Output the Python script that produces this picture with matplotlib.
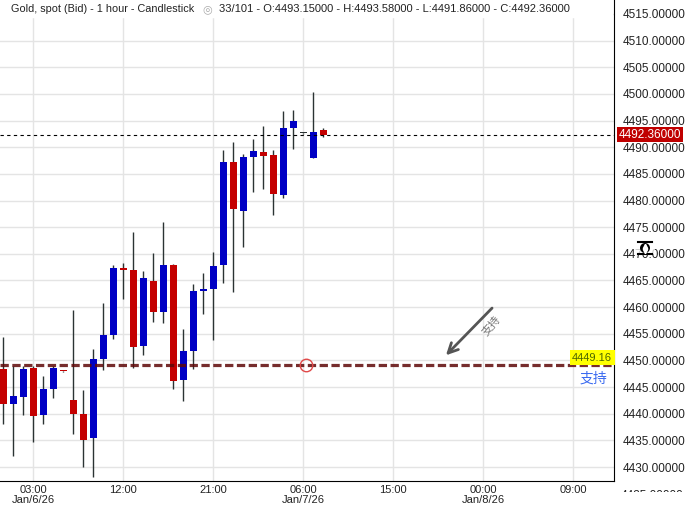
import matplotlib.pyplot as plt
import numpy as np
from matplotlib.patches import Rectangle, Circle
from matplotlib.lines import Line2D
from matplotlib.transforms import Bbox, IdentityTransform, blended_transform_factory

plt.rcParams['font.family'] = ['Liberation Sans', 'Noto Sans CJK SC', 'DejaVu Sans']

# hours counted from 03:00 Jan/6/26
hours = list(range(-3, 30))
opens = [4448.38, 4441.87, 4443.24, 4448.62, 4439.87, 4444.74, 4448.05, 4442.62, 4440.0, 4435.37,
         4450.31, 4454.81, 4467.31, 4467.0, 4452.75, 4464.94, 4459.18, 4467.94, 4446.43, 4451.87,
         4463.12, 4463.44, 4467.94, 4487.31, 4478.12, 4488.25, 4489.12, 4488.56, 4481.06, 4493.68,
         4492.6, 4488.06, 4493.15]
closes = [4441.87, 4443.37, 4448.44, 4439.68, 4444.68, 4448.62, 4447.95, 4440.05, 4435.18, 4450.31,
          4454.81, 4467.37, 4467.0, 4452.56, 4465.5, 4459.18, 4467.94, 4446.24, 4451.81, 4463.06,
          4463.44, 4467.75, 4487.31, 4478.38, 4488.25, 4489.31, 4488.43, 4481.25, 4493.62, 4494.94,
          4492.6, 4492.81, 4492.36]
highs = [4454.31, 4449.0, 4449.0, 4449.0, 4447.12, 4449.0, 4448.1, 4459.5, 4444.5, 4452.19,
         4460.87, 4467.94, 4468.37, 4474.1, 4466.81, 4470.24, 4476.0, 4468.12, 4455.93, 4464.37,
         4466.44, 4470.37, 4489.5, 4491.06, 4488.75, 4491.56, 4494.0, 4489.5, 4496.81, 4497.0,
         4492.7, 4500.43, 4493.58]
lows = [4438.18, 4432.18, 4439.87, 4434.8, 4438.0, 4443.05, 4447.9, 4436.3, 4430.1, 4428.2,
        4448.25, 4454.06, 4461.56, 4448.68, 4451.06, 4457.3, 4457.1, 4444.56, 4442.49, 4448.49,
        4458.8, 4453.87, 4464.5, 4462.93, 4471.37, 4481.68, 4482.13, 4477.31, 4480.56, 4489.69,
        4492.5, 4488.06, 4491.86]

tick_pos = [0, 9, 18, 27, 36, 45, 54]
tick_labels = ['03:00\nJan/6/26', '12:00', '21:00', '06:00\nJan/7/26', '15:00', '00:00\nJan/8/26', '09:00']
price_ticks = np.arange(4430, 4516, 5)

last_price = 4492.36
support = 4449.16

fig = plt.figure(figsize=(6.86, 5.05), dpi=100)
ax = fig.add_axes([0, 24 / 505, 614 / 686, 481 / 505])

wick_col = '#2b3333'
up_col = '#0000c4'
down_col = '#c40000'

ax.vlines(hours, lows, highs, color=wick_col, lw=1, zorder=3)
for h, o, c in zip(hours, opens, closes):
    if c > o:
        col = up_col
    elif c < o:
        col = down_col
    else:
        col = wick_col
    ax.bar(h, max(abs(c - o), 0.3), bottom=min(o, c), width=0.68, color=col, zorder=4, linewidth=0)

ax.set_xlim(-3.33, 58.07)
ax.set_ylim(4427.4, 4517.6)

ax.set_xticks(tick_pos)
ax.set_xticklabels(tick_labels, fontsize=8, linespacing=0.95, color='#222222')
ax.set_yticks(price_ticks)
ax.set_yticklabels(['%.5f' % p for p in price_ticks], fontsize=8.5, color='#222222')
ax.yaxis.tick_right()
ax.tick_params(axis='both', length=0)
ax.tick_params(axis='y', pad=6)
ax.tick_params(axis='x', pad=3)
ax.grid(True, color='#e4e4e4', lw=1)
ax.set_axisbelow(True)
for s in ['top', 'left']:
    ax.spines[s].set_visible(False)
ax.spines['right'].set_color('black')
ax.spines['bottom'].set_color('black')

# last price line
ax.axhline(last_price, color='black', lw=0.8, dashes=(3, 3), zorder=5)
trans = blended_transform_factory(ax.transAxes, ax.transData)
ax.text(1.008, last_price, '%.5f' % last_price, transform=trans, fontsize=8.5, color='white',
        va='center', ha='left', clip_on=False,
        bbox=dict(boxstyle='square,pad=0.12', fc='#c00000', ec='none'))

# support line
ax.axhline(support, color='#5e0808', lw=2.3, alpha=0.85, dashes=(2.6, 1.1), zorder=6)
ax.plot([27.27], [support], marker='o', ms=9, mfc='none', mec='#e04848', mew=1, zorder=7)
ax.text(0.997, support + 0.45, '%.2f' % support, transform=trans, fontsize=8, color='#4a6400',
        ha='right', va='bottom', zorder=8,
        bbox=dict(boxstyle='square,pad=0.22', fc='#ffff00', ec='none'))
ax.text(0.966, support - 2.5, '支持', transform=trans, fontsize=10, color='#3a6af0',
        ha='center', va='center', family=['Noto Sans CJK SC', 'DejaVu Sans'])

# arrow with note
ax.annotate('', xy=(41.07, 4450.6), xytext=(46.07, 4460.2),
            arrowprops=dict(arrowstyle='->,head_length=0.7,head_width=0.35', color='#555555', lw=2))
ax.text(45.8, 4456.5, '支持', rotation=50, fontsize=8, color='#777777', ha='center', va='center',
        family=['Noto Sans CJK SC', 'DejaVu Sans'])

# white band behind the header line
fig.add_artist(Rectangle((0, 1 - 17 / 505), 612 / 686, 17 / 505, transform=fig.transFigure,
                         color='white', zorder=3))
fig.text(11 / 686, 1 - 9 / 505, 'Gold, spot (Bid) - 1 hour - Candlestick', fontsize=7.8,
         color='#222222', va='center', ha='left', zorder=4)
fig.text(207 / 686, 1 - 9 / 505, '◎', fontsize=8, color='#aaaaaa', va='center', ha='center',
         family=['DejaVu Sans'], zorder=4)
fig.text(219 / 686, 1 - 9 / 505, '33/101 - O:4493.15000 - H:4493.58000 - L:4491.86000 - C:4492.36000',
         fontsize=8, color='#222222', va='center', ha='left', zorder=4)

# scale handle on the price axis
idt = IdentityTransform()
fig.add_artist(Rectangle((636, 505 - 254), 19, 12, transform=idt, fc='white', ec='none',
                         alpha=0.75, zorder=5))
fig.add_artist(Line2D([638, 652], [505 - 242, 505 - 242], transform=idt, color='black', lw=1.5, zorder=6))
fig.add_artist(Line2D([638, 652], [505 - 254, 505 - 254], transform=idt, color='black', lw=1.5, zorder=6))
fig.add_artist(Circle((645, 505 - 248), 5, transform=idt, fc='black', ec='none', zorder=6))
fig.add_artist(Line2D([645], [505 - 246], transform=idt, marker='^', ms=3.2, color='white', lw=0, zorder=7))
fig.add_artist(Line2D([645], [505 - 250.5], transform=idt, marker='v', ms=3.2, color='white', lw=0, zorder=7))

# partly hidden bottom price label
t = fig.text(652 / 686, 1 - 496 / 505, '4425.00000', fontsize=8.5, color='#222222',
             ha='center', va='center')
t.set_clip_box(Bbox([[600, 505 - 492], [686, 505 - 486]]))
t.set_clip_on(True)

fig.savefig('out.png', dpi=100)
